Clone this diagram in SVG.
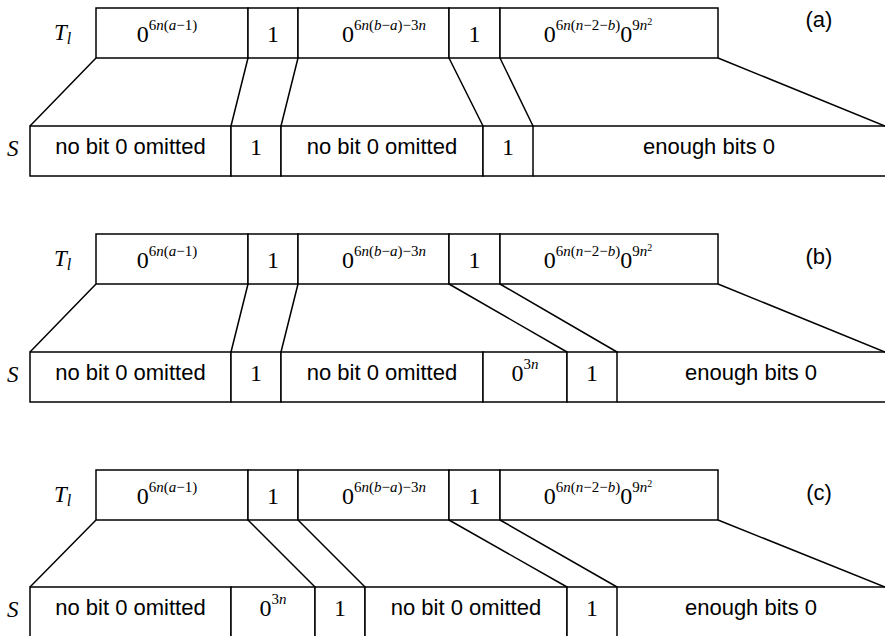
<svg xmlns="http://www.w3.org/2000/svg" width="885" height="636" viewBox="0 0 885 636">
<style>
.b{fill:#fff;stroke:#000;stroke-width:1.5}
.c{stroke:#000;stroke-width:1.5;fill:none}
.s{font-family:"Liberation Sans",Arial,sans-serif;font-size:22px;text-anchor:middle;fill:#000}
.r{font-family:"Liberation Serif","Times New Roman",serif;font-size:24px;text-anchor:middle;fill:#000}
.sup{font-size:15px}
.i{font-style:italic}
.lab{font-family:"Liberation Serif","Times New Roman",serif;font-size:23px;font-style:italic;fill:#000}
</style>
<rect width="885" height="636" fill="#fff"/>
<defs>
<g id="Trow">
<rect class="b" x="96" y="0" width="152" height="50"/>
<rect class="b" x="248" y="0" width="50" height="50"/>
<rect class="b" x="298" y="0" width="151" height="50"/>
<rect class="b" x="449" y="0" width="51" height="50"/>
<rect class="b" x="500" y="0" width="218" height="50"/>
<text class="lab" x="54" y="32">T<tspan font-size="16" dy="4">l</tspan></text>
<text class="r" x="167" y="34">0<tspan class="sup" dy="-12">6<tspan class="i">n</tspan>(<tspan class="i">a</tspan>−1)</tspan></text>
<text class="r" x="273" y="34">1</text>
<text class="r" x="384" y="34">0<tspan class="sup" dy="-12">6<tspan class="i">n</tspan>(<tspan class="i">b</tspan>−<tspan class="i">a</tspan>)−3<tspan class="i">n</tspan></tspan></text>
<text class="r" x="474.5" y="34">1</text>
<text class="r" x="598" y="34">0<tspan class="sup" dy="-12">6<tspan class="i">n</tspan>(<tspan class="i">n</tspan>−2−<tspan class="i">b</tspan>)</tspan><tspan dy="12">0</tspan><tspan class="sup" dy="-12">9<tspan class="i">n</tspan></tspan><tspan font-size="10" dy="-5">2</tspan></text>
</g>
</defs>
<g id="panel-a">
<g id="a-T" transform="translate(0,8)"><use href="#Trow"/></g>
<text id="a-label" class="s" x="819" y="27">(a)</text>
<g id="a-S">
<text class="lab" x="7" y="156">S</text>
<rect class="b" x="30" y="126" width="201" height="50"/>
<rect class="b" x="231" y="126" width="50" height="50"/>
<rect class="b" x="281" y="126" width="202" height="50"/>
<rect class="b" x="483" y="126" width="50" height="50"/>
<path class="c" d="M533 126H886M533 176H886"/>
<text class="s" x="130.5" y="154">no bit 0 omitted</text>
<text class="r" x="256" y="155">1</text>
<text class="s" x="382" y="154">no bit 0 omitted</text>
<text class="r" x="508" y="155">1</text>
<text class="s" x="709" y="154">enough bits 0</text>
</g>
<g id="a-connectors">
<path class="c" d="M96 58L30 126M248 58L231 126M298 58L281 126M449 58L483 126M500 58L533 126M718 58L885 126"/>
</g>
</g>
<g id="panel-b">
<g id="b-T" transform="translate(0,234)"><use href="#Trow"/></g>
<text id="b-label" class="s" x="819" y="264">(b)</text>
<g id="b-S">
<text class="lab" x="7" y="382">S</text>
<rect class="b" x="30" y="352" width="201" height="50"/>
<rect class="b" x="231" y="352" width="50" height="50"/>
<rect class="b" x="281" y="352" width="202" height="50"/>
<rect class="b" x="483" y="352" width="84" height="50"/>
<rect class="b" x="567" y="352" width="50" height="50"/>
<path class="c" d="M617 352H886M617 402H886"/>
<text class="s" x="130.5" y="380">no bit 0 omitted</text>
<text class="r" x="256" y="381">1</text>
<text class="s" x="382" y="380">no bit 0 omitted</text>
<text class="r" x="525" y="381">0<tspan class="sup" dy="-12">3<tspan class="i">n</tspan></tspan></text>
<text class="r" x="592" y="381">1</text>
<text class="s" x="751" y="380">enough bits 0</text>
</g>
<g id="b-connectors">
<path class="c" d="M96 284L30 352M248 284L231 352M298 284L281 352M449 284L567 352M500 284L617 352M718 284L885 352"/>
</g>
</g>
<g id="panel-c">
<g id="c-T" transform="translate(0,470)"><use href="#Trow"/></g>
<text id="c-label" class="s" x="819" y="500">(c)</text>
<g id="c-S">
<text class="lab" x="7" y="617">S</text>
<rect class="b" x="30" y="587" width="201" height="50"/>
<rect class="b" x="231" y="587" width="84" height="50"/>
<rect class="b" x="315" y="587" width="50" height="50"/>
<rect class="b" x="365" y="587" width="202" height="50"/>
<rect class="b" x="567" y="587" width="50" height="50"/>
<path class="c" d="M617 587H886M617 637H886"/>
<text class="s" x="130.5" y="615">no bit 0 omitted</text>
<text class="r" x="273" y="616">0<tspan class="sup" dy="-12">3<tspan class="i">n</tspan></tspan></text>
<text class="r" x="340" y="616">1</text>
<text class="s" x="466" y="615">no bit 0 omitted</text>
<text class="r" x="592" y="616">1</text>
<text class="s" x="751" y="615">enough bits 0</text>
</g>
<g id="c-connectors">
<path class="c" d="M96 520L30 587M248 520L315 587M298 520L365 587M449 520L567 587M500 520L617 587M718 520L885 587"/>
</g>
</g>
</svg>
